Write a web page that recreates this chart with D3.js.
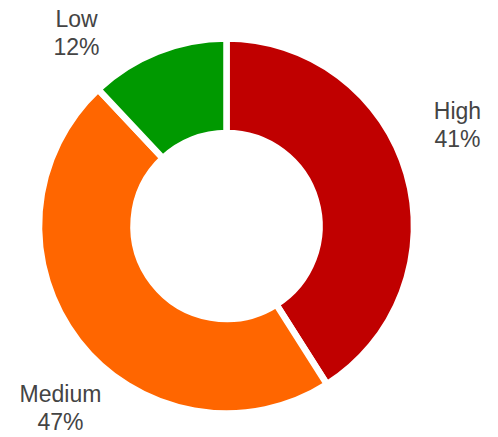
<!DOCTYPE html>
<html>
<head>
<meta charset="utf-8">
<script src="https://d3js.org/d3.v7.min.js"></script>
<style>
body { margin: 0; background: #fff; }
text { font-family: "Liberation Sans", Arial, sans-serif; font-size: 23px; fill: #444; }
</style>
</head>
<body>
<svg></svg>
<script>
// data
var categories = ["High", "Medium", "Low"];
var values = [41, 47, 12];
var colors = ["#c00000", "#ff6600", "#009900"];

// where each label sits, relative to the centre of the donut
var labelOffsets = [[231, -107], [-166, 176], [-150, -199]];

var width = 498, height = 437;
var cx = 226.5, cy = 226;
var outerR = 187.5, innerR = 93;

var svg = d3.select("svg").attr("width", width).attr("height", height);
var g = svg.append("g").attr("transform", "translate(" + cx + "," + cy + ")");

var pie = d3.pie().sort(null).value(function (d) { return d; });
var arc = d3.arc().innerRadius(innerR).outerRadius(outerR);
var arcs = pie(values);
var total = d3.sum(values);

// white stroke makes the gaps between slices
g.selectAll("path.slice")
    .data(arcs)
    .enter().append("path")
    .attr("class", "slice")
    .attr("d", arc)
    .style("fill", function (d, i) { return colors[i]; })
    .style("stroke", "#fff")
    .style("stroke-width", 6.5)
    .style("stroke-linejoin", "miter");

// labels: name on first line, percent on second
var lbl = g.selectAll("text.lbl")
    .data(arcs)
    .enter().append("text")
    .attr("class", "lbl")
    .attr("text-anchor", "middle")
    .attr("transform", function (d, i) {
        return "translate(" + labelOffsets[i][0] + "," + labelOffsets[i][1] + ")";
    });
lbl.append("tspan").attr("x", 0).attr("y", 0).text(function (d, i) { return categories[i]; });
lbl.append("tspan").attr("x", 0).attr("y", 28)
    .text(function (d) { return Math.round(d.value / total * 100) + "%"; });
</script>
</body>
</html>
